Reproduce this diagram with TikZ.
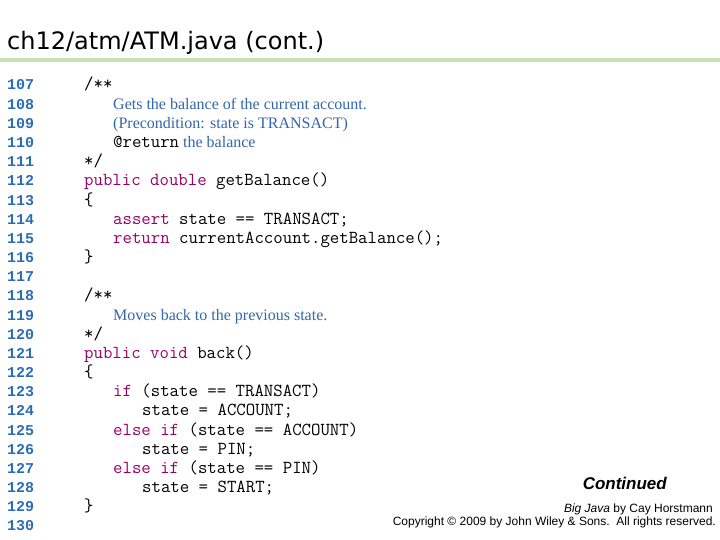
\documentclass[tikz,border=0pt]{standalone}
\usepackage{fontspec}
\setmainfont{Liberation Serif}
\setsansfont{Liberation Sans}
\newfontfamily\numfont{Liberation Mono}
\newfontfamily\titlefont{DejaVu Sans}
\usepackage{xcolor}
\definecolor{kwcol}{HTML}{990066}
\definecolor{cmtcol}{HTML}{3366AA}
\definecolor{numcol}{HTML}{2A6DB5}
\definecolor{rulecol}{HTML}{C6E2B5}
\newcommand{\kw}[1]{\textcolor{kwcol}{#1}}
\newcommand{\cmt}[1]{{\rmfamily\fontsize{16}{16}\selectfont\color{cmtcol}#1}}
\newcommand{\ypos}[1]{90+19.17*(#1-107)}

\begin{document}
\begin{tikzpicture}[x=1pt,y=-1pt,
    code/.style={anchor=base west, inner sep=0pt, font=\ttfamily\fontsize{18.3}{18}\selectfont},
    lineno/.style={anchor=base west, inner sep=0pt, text=numcol, font=\numfont\bfseries\fontsize{15}{15}\selectfont},
    foot/.style={anchor=base east, inner sep=0pt, font=\sffamily\fontsize{12}{12}\selectfont}]
\useasboundingbox (0,0) rectangle (720,540);
% heading
\node[anchor=base west, inner sep=0pt, font=\titlefont\fontsize{24}{24}\selectfont] (title) at (7,50) {ch12/atm/ATM.java (cont.)};
\fill[rulecol] (0,58) rectangle (720,62.5);
% line numbers
\foreach \n in {107,...,130}
    \node[lineno] (n\n) at (7,{\ypos{\n}}) {\n};
% getBalance
\node[code] (c107) at (84,{\ypos{107}}) {/**};
\node[code] (c108) at (113,{\ypos{108}}) {\cmt{Gets the balance of the current account.}};
\node[code] (c109) at (113,{\ypos{109}}) {\cmt{(Precondition: state is TRANSACT)}};
\node[code] (c110) at (113,{\ypos{110}}) {@return\cmt{\ the balance}};
\node[code] (c111) at (84,{\ypos{111}}) {*/};
\node[code] (c112) at (84,{\ypos{112}}) {\kw{public} \kw{double} getBalance()};
\node[code] (c113) at (84,{\ypos{113}}) {\{};
\node[code] (c114) at (113,{\ypos{114}}) {\kw{assert} state == TRANSACT;};
\node[code] (c115) at (113,{\ypos{115}}) {\kw{return} currentAccount.getBalance();};
\node[code] (c116) at (84,{\ypos{116}}) {\}};
% back
\node[code] (c118) at (84,{\ypos{118}}) {/**};
\node[code] (c119) at (113,{\ypos{119}}) {\cmt{Moves back to the previous state.}};
\node[code] (c120) at (84,{\ypos{120}}) {*/};
\node[code] (c121) at (84,{\ypos{121}}) {\kw{public} \kw{void} back()};
\node[code] (c122) at (84,{\ypos{122}}) {\{};
\node[code] (c123) at (113,{\ypos{123}}) {\kw{if} (state == TRANSACT)};
\node[code] (c124) at (142,{\ypos{124}}) {state = ACCOUNT;};
\node[code] (c125) at (113,{\ypos{125}}) {\kw{else} \kw{if} (state == ACCOUNT)};
\node[code] (c126) at (142,{\ypos{126}}) {state = PIN;};
\node[code] (c127) at (113,{\ypos{127}}) {\kw{else} \kw{if} (state == PIN)};
\node[code] (c128) at (142,{\ypos{128}}) {state = START;};
\node[code] (c129) at (84,{\ypos{129}}) {\}};
% footer
\node[foot, font=\sffamily\bfseries\itshape\fontsize{17}{17}\selectfont] (cont) at (667,489) {Continued};
\node[foot] (book) at (713,512) {\textit{Big Java} by Cay Horstmann};
\node[foot] (copy) at (716,525) {Copyright \textcopyright{} 2009 by John Wiley \& Sons.\ \ All rights reserved.};
\end{tikzpicture}
\end{document}
